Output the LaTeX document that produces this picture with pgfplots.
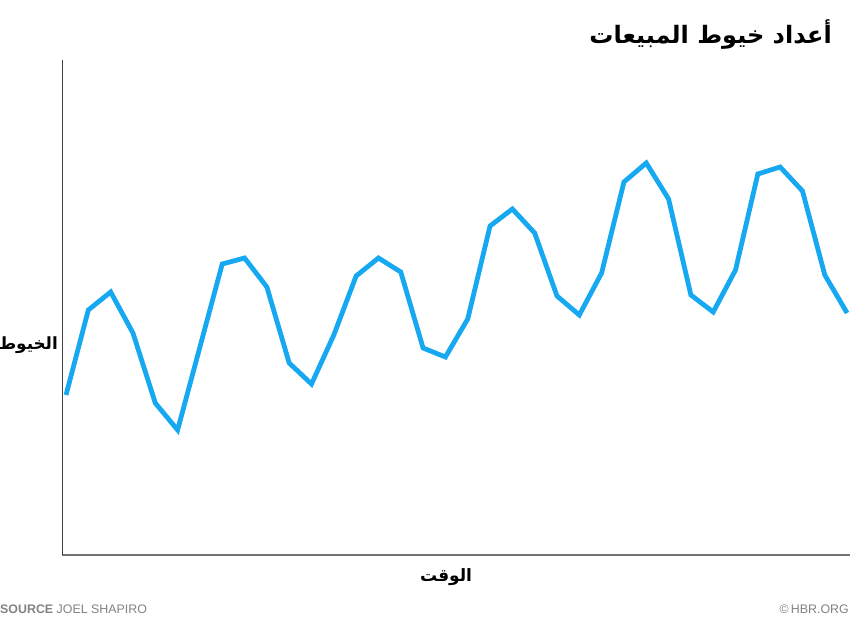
\documentclass[border=0pt]{standalone}
\usepackage{pgfplots}
\pgfplotsset{compat=1.18}
\usepackage{fontspec}
\setmainfont{Liberation Sans}
\newfontfamily\arabicfont[Script=Arabic]{DejaVu Sans}
\TeXXeTstate=1
\definecolor{lineblue}{RGB}{22,168,240}
\definecolor{srcgray}{RGB}{130,130,130}
\begin{document}
\begin{tikzpicture}[x=1pt,y=1pt]
\useasboundingbox (0,0) rectangle (850,619);
\begin{axis}[
  at={(62pt,64pt)}, anchor=south west,
  scale only axis, width=788pt, height=495pt,
  xmin=-0.18, xmax=35.13, ymin=0, ymax=495,
  axis x line*=bottom, axis y line*=left,
  x axis line style={-, draw=black!55, line width=1.6pt},
  y axis line style={-, draw=black!75, line width=0.9pt},
  xtick=\empty, ytick=\empty,
  clip=false,
]
\addplot[lineblue, line width=4.8pt, line join=miter, mark=none] coordinates {
(0,160) (1,245) (2,263) (3,222) (4,152) (5,125) (6,208) (7,291) (8,297) (9,268)
(10,192) (11,171) (12,220) (13,279) (14,297) (15,283) (16,207) (17,198) (18,236) (19,329)
(20,346) (21,322) (22,259) (23,240) (24,282) (25,373) (26,392) (27,356) (28,260) (29,243)
(30,285) (31,381) (32,388) (33,364) (34,280) (35,242)
};
\end{axis}
\node[anchor=east, inner sep=0pt, font=\arabicfont\bfseries\fontsize{24}{28}\selectfont] at (832,584) {\beginR أعداد خيوط المبيعات\endR};
\node[anchor=east, font=\arabicfont\bfseries\fontsize{16.8}{20}\selectfont, inner sep=0pt] at (58,274) {\beginR الخيوط\endR};
\node[anchor=center, font=\arabicfont\bfseries\fontsize{17}{20}\selectfont, inner sep=0pt] at (446,42) {\beginR الوقت\endR};
\node[anchor=west, inner sep=0pt, text=srcgray, font=\fontsize{12.4}{14}\selectfont] at (0,10) {\textbf{SOURCE}\ JOEL SHAPIRO};
\node[anchor=east, inner sep=0pt, text=srcgray, font=\fontsize{12.4}{14}\selectfont] at (849,10) {\textcopyright\,HBR.ORG};
\end{tikzpicture}
\end{document}
